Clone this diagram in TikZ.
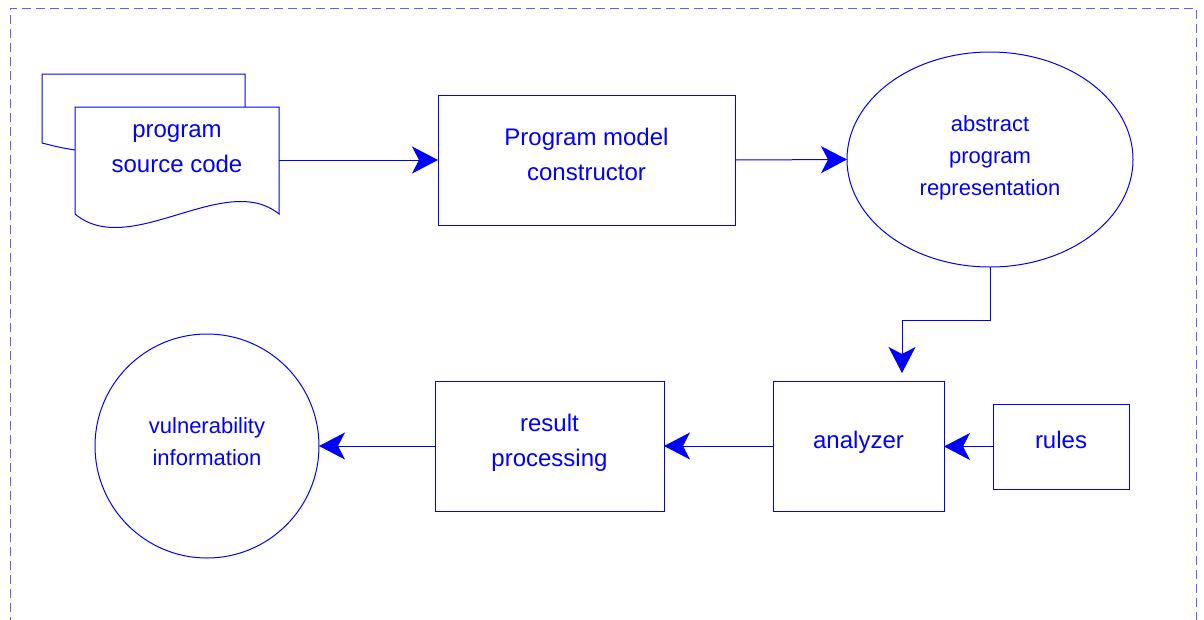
\documentclass[tikz,border=0pt]{standalone}
\usepackage{fontspec}
\setmainfont{Liberation Sans}
\usetikzlibrary{arrows.meta,shapes.geometric}
\definecolor{ink}{RGB}{0,0,255}
\definecolor{framecol}{RGB}{95,95,255}

\begin{document}
\begin{tikzpicture}[x=1pt,y=-1pt,line width=1pt,
  shp/.style={draw=ink,inner sep=0pt,outer sep=0pt},
  box/.style={shp,rectangle},
  big/.style={text=ink,align=center,inner sep=0pt,font=\fontsize{24}{35}\selectfont},
  small/.style={text=ink,align=center,inner sep=0pt,font=\fontsize{22}{32}\selectfont},
  arr/.style={draw=ink,-{Stealth[length=26pt,width=27pt,inset=7pt]}},
]
\useasboundingbox (0,0) rectangle (1204,619);

% dashed frame (its bottom edge lies below the page)
\draw[framecol,dash pattern=on 9pt off 5pt] (10,640) -- (10,8) -- (1196,8) -- (1196,640);

% stacked document: back sheet
\draw[ink] (75,150) .. controls (60,147.5) .. (42,143) -- (42,74) -- (245,74) -- (245,107);
% front sheet with wavy bottom
\draw[ink,fill=white] (75,107) -- (279,107) -- (279,214)
  .. controls (225,170) and (130,260) .. (75,214) -- cycle;
\node[big] (doc) at (177,147.5) {\strut program\\\strut source code};
\coordinate (docR) at (279,160);

% process boxes and stores
\node[box,minimum width=297pt,minimum height=130pt,
  label={[big,yshift=4pt]center:\strut Program model\\\strut constructor}]
  (pmc) at (586.5,160) {};
\node[shp,ellipse,minimum width=286pt,minimum height=215pt,
  label={[small,yshift=2.5pt]center:\strut abstract\\\strut program\\\strut representation}]
  (apr) at (990,159.5) {};
\node[box,minimum width=171pt,minimum height=130pt,
  label={[big,yshift=5pt]center:\strut analyzer}]
  (ana) at (858.5,446) {};
\node[box,minimum width=136pt,minimum height=85pt,
  label={[big,yshift=5.5pt]center:\strut rules}]
  (rul) at (1061,446.5) {};
\node[box,minimum width=229pt,minimum height=130pt,
  label={[big,yshift=4.5pt]center:\strut result\\\strut processing}]
  (res) at (549.5,446) {};
\node[shp,circle,minimum size=224pt,
  label={[small,yshift=3pt]center:\strut vulnerability\\\strut information}]
  (vul) at (207,446) {};

% connectors
\coordinate (bend) at (902,320);
\draw[arr] (docR) -- (pmc.west);
\draw[arr] (pmc.east) -- (apr.west);
\draw[arr,shorten >=8pt] (apr.south) |- (bend) -- (bend |- ana.north);
\draw[arr] (rul.west) -- (rul.west -| ana.east);
\draw[arr] (ana.west) -- (res.east);
\draw[arr] (res.west) -- (vul.east);
\end{tikzpicture}
\end{document}
